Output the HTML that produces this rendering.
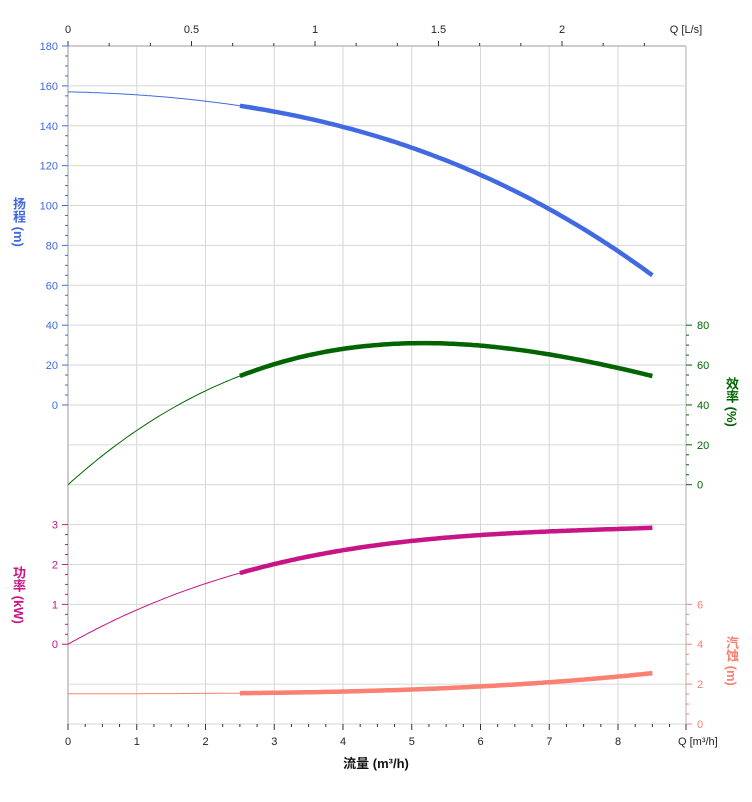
<!DOCTYPE html><html><head><meta charset="utf-8"><style>
body{margin:0;background:#fff}
svg text{font-family:"Liberation Sans","Noto Sans CJK SC",sans-serif;font-size:11px}
.vl{font-family:"Liberation Sans","Noto Sans CJK SC",sans-serif;font-weight:bold;font-size:13px}
</style></head><body>
<svg id="s" width="752" height="797" xmlns="http://www.w3.org/2000/svg"></svg>
<script>
const s=document.getElementById('s');let h='';
const L=68,R=686,T=46,B=724;
const X=q=>L+q*68.75, step=(B-T)/17;
for(let i=0;i<=17;i++){const y=T+i*step;h+=`<line x1="${L}" x2="${R}" y1="${y}" y2="${y}" stroke="#d6d6d6" stroke-width="1"/>`;}
for(let q=1;q<=8;q++)h+=`<line x1="${X(q)}" x2="${X(q)}" y1="${T}" y2="${B}" stroke="#d6d6d6"/>`;
h+=`<line x1="${R}" x2="${R}" y1="${T}" y2="${B}" stroke="#ccc" stroke-width="1.5"/>`;
h+=`<line x1="${L}" x2="${L}" y1="${T}" y2="${B}" stroke="#ccc" stroke-width="2"/>`;
h+=`<line x1="${L}" x2="${R}" y1="${T}" y2="${T}" stroke="#ccc" stroke-width="2"/>`;
for(let k=0;k<=14;k++){const x=L+k*247/6;h+=`<line x1="${x}" x2="${x}" y1="${T-(k%3==0?5:3)}" y2="${T}" stroke="#333"/>`;if(k%3==0)h+=`<text x="${x}" y="33" text-anchor="middle" fill="#222">${k/6}</text>`;}
h+=`<text x="686" y="33" text-anchor="middle" fill="#222">Q [L/s]</text>`;
for(let k=0;k*0.25<=8.9;k++){const x=X(k*0.25);h+=`<line x1="${x}" x2="${x}" y1="${B}" y2="${B+(k%4==0?6:3)}" stroke="#333"/>`;if(k%4==0)h+=`<text x="${x}" y="745" text-anchor="middle" fill="#222">${k/4}</text>`;}
h+=`<line x1="${R}" x2="${R}" y1="${B}" y2="${B+6}" stroke="#333"/>`;
h+=`<text x="678" y="745" fill="#222">Q [m³/h]</text>`;
h+=`<text x="376" y="768" text-anchor="middle" font-weight="bold" style="font-size:13px" fill="#111">流量 (m³/h)</text>`;
const HB='#4169e1';
for(let v=0;v<=180;v+=5){const y=T+(180-v)/20*step;h+=`<line x1="${L-(v%20==0?6:3)}" x2="${L}" y1="${y}" y2="${y}" stroke="${HB}"/>`;if(v%20==0)h+=`<text x="58" y="${y+4}" text-anchor="end" fill="${HB}">${v}</text>`;}
const PC='#c71585';const P0=T+15*step;
for(let k=0;k<=12;k++){const v=k/4,y=P0-v*step;h+=`<line x1="${L-(k%4==0?6:3)}" x2="${L}" y1="${y}" y2="${y}" stroke="${PC}"/>`;if(k%4==0)h+=`<text x="58" y="${y+4}" text-anchor="end" fill="${PC}">${v}</text>`;}
const EC='#006400';const E0=T+11*step;
for(let v=0;v<=80;v+=5){const y=E0-v/20*step;h+=`<line x1="${R}" x2="${R+(v%20==0?6:3)}" y1="${y}" y2="${y}" stroke="${EC}"/>`;if(v%20==0)h+=`<text x="697" y="${y+4}" fill="${EC}">${v}</text>`;}
const NC='#fa8072';
for(let v=0;v<=6;v+=0.5){const y=B-v/2*step;h+=`<line x1="${R}" x2="${R+(v%2==0?6:3)}" y1="${y}" y2="${y}" stroke="${NC}"/>`;if(v%2==0)h+=`<text x="697" y="${y+4}" fill="${NC}">${v}</text>`;}
function lag(pts){return q=>{let r=0;for(let i=0;i<pts.length;i++){let t=pts[i][1];for(let j=0;j<pts.length;j++)if(j!=i)t*=(q-pts[j][0])/(pts[i][0]-pts[j][0]);r+=t;}return r;}}
const H=lag([[0,157],[2.5,150],[5,129],[8.5,65]]);
const E=lag([[0,0],[2.5,54.5],[5.2,71],[8.5,54.5]]);
const P=lag([[0,0],[1,0.86],[5,2.59],[8.5,2.92]]);
const N=q=>1.52+0.00168*q*q*q;
function path(f,ymap,a,b,w,c){let d='';for(let q=a;q<=b+1e-9;q+=0.05)d+=(d?'L':'M')+X(q).toFixed(1)+','+ymap(f(q)).toFixed(1);return `<path d="${d}" fill="none" stroke="${c}" stroke-width="${w}"/>`;}
const hy=v=>T+(180-v)/20*step, ey=v=>E0-v/20*step, py=v=>P0-v*step, ny=v=>B-v/2*step;
[[H,hy,HB],[E,ey,EC],[P,py,PC],[N,ny,NC]].forEach(([f,m,c])=>{h+=path(f,m,0,2.5,1,c);h+=path(f,m,2.5,8.5,4.5,c);});
s.innerHTML=h;
</script>
<div class="vl" style="position:absolute;left:9px;top:197px;color:#4169e1;writing-mode:vertical-rl">扬程 (m)</div>
<div class="vl" style="position:absolute;left:9px;top:566px;color:#c71585;writing-mode:vertical-rl">功率 (kW)</div>
<div class="vl" style="position:absolute;left:722px;top:377px;color:#006400;writing-mode:vertical-rl">效率 (%)</div>
<div class="vl" style="position:absolute;left:722px;top:636px;color:#fa8072;writing-mode:vertical-rl">汽蚀 (m)</div>
</body></html>
